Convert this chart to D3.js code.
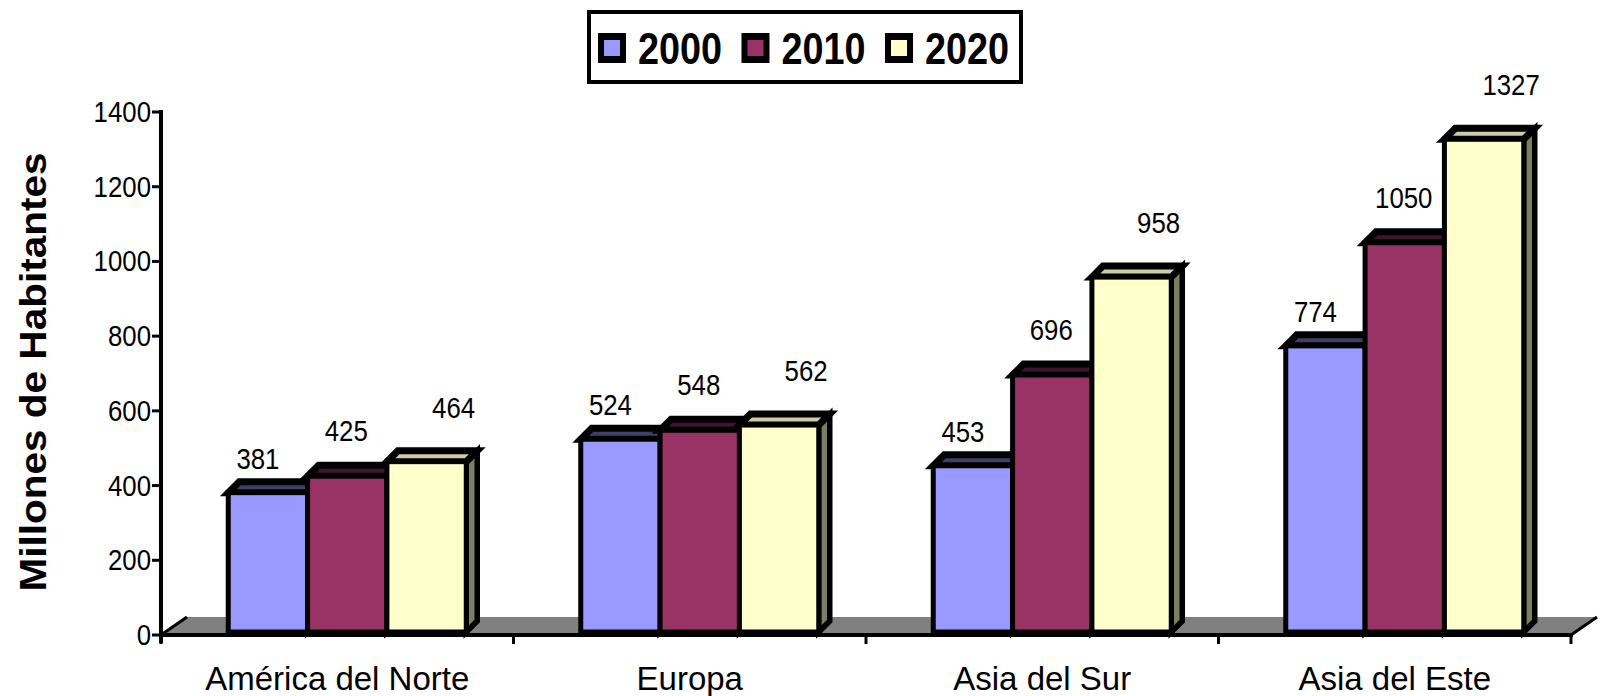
<!DOCTYPE html>
<html>
<head>
<meta charset="utf-8">
<script src="https://cdn.jsdelivr.net/npm/d3@7"></script>
<style>
  body { margin: 0; background: #fff; }
  svg { display: block; }
</style>
</head>
<body>
<div id="chart"></div>
<script>
// data
const regions = ["América del Norte", "Europa", "Asia del Sur", "Asia del Este"];
const years = ["2000", "2010", "2020"];
const pop2000 = [381, 524, 453, 774];
const pop2010 = [425, 548, 696, 1050];
const pop2020 = [464, 562, 958, 1327];
const yTicks = [0, 200, 400, 600, 800, 1000, 1200, 1400];

const seriesValues = [pop2000, pop2010, pop2020];
const colors = ["#9999ff", "#993366", "#ffffcc"];

const width = 1600;
const height = 696;
const depth = 11;        // 3d offset of the bars
const floorDx = 26, floorDy = 18;

const svg = d3.select("#chart").append("svg")
    .attr("width", width)
    .attr("height", height);

const x = d3.scaleBand()
    .domain(regions)
    .range([161, 1571]);

const xSub = d3.scaleBand()
    .domain(years)
    .range([0, 238]);

const y = d3.scaleLinear()
    .domain([0, 1400])
    .range([635, 112]);

// text helper, sx squeezes the glyphs sideways
function txt(parent, px, py, str, size, anchor, weight, sx) {
    return parent.append("text")
        .attr("transform", `translate(${px},${py}) scale(${sx || 0.86},1)`)
        .attr("text-anchor", anchor || "middle")
        .attr("font-family", "'Liberation Sans', Arial, sans-serif")
        .attr("font-size", size + "px")
        .attr("font-weight", weight || "normal")
        .attr("fill", "#000")
        .text(str);
}

// floor
const x0 = x.range()[0], x1 = x.range()[1], base = y(0);
svg.append("polygon")
    .attr("points", [[x0, base], [x1, base], [x1 + floorDx, base - floorDy], [x0 + floorDx, base - floorDy]].join(" "))
    .attr("fill", "#808080");
svg.append("line")
    .attr("x1", x0).attr("y1", base).attr("x2", x0 + floorDx).attr("y2", base - floorDy)
    .attr("stroke", "#000").attr("stroke-width", 3);
svg.append("line")
    .attr("x1", x1).attr("y1", base).attr("x2", x1 + floorDx).attr("y2", base - floorDy)
    .attr("stroke", "#000").attr("stroke-width", 3);

// bars
const barBase = base - 3;
const bw = xSub.bandwidth();
const groups = svg.selectAll(".grp")
    .data(regions)
    .join("g")
    .attr("class", "grp")
    .attr("transform", d => `translate(${x(d) + x.bandwidth() / 2 - 119 + 10},0)`);

groups.each(function(region, ri) {
    const g = d3.select(this);
    years.forEach((yr, si) => {
        const v = seriesValues[si][ri];
        const bx = xSub(yr);
        const top = y(v);
        const col = colors[si];
        const bar = g.append("g");
        // side
        bar.append("polygon")
            .attr("points", [[bx + bw, top], [bx + bw + depth, top - depth], [bx + bw + depth, barBase - depth], [bx + bw, barBase]].join(" "))
            .attr("fill", d3.color(col).darker(2))
            .attr("stroke", "#000").attr("stroke-width", 5.5).attr("stroke-linejoin", "miter");
        // top
        bar.append("polygon")
            .attr("points", [[bx, top], [bx + depth, top - depth], [bx + bw + depth, top - depth], [bx + bw, top]].join(" "))
            .attr("fill", si === 2 ? d3.color(col).darker(0.6) : d3.color(col).darker(2.5))
            .attr("stroke", "#000").attr("stroke-width", 7).attr("stroke-linejoin", "miter");
        // front
        bar.append("rect")
            .attr("x", bx).attr("y", top)
            .attr("width", bw).attr("height", barBase - top)
            .attr("fill", col)
            .attr("stroke", "#000").attr("stroke-width", 5);
    });
});

// value labels, nudged per series like the excel picture
const labelDx = [-10, -1, 27];
const labelDy = [24, 35, 44];
groups.each(function(region, ri) {
    const g = d3.select(this);
    years.forEach((yr, si) => {
        const v = seriesValues[si][ri];
        txt(g, xSub(yr) + bw / 2 + labelDx[si], y(v) - labelDy[si], v, 30);
    });
});

// y axis
svg.append("line")
    .attr("x1", x0).attr("x2", x0)
    .attr("y1", y(1400) - 2).attr("y2", base + 8)
    .attr("stroke", "#000").attr("stroke-width", 4);
yTicks.forEach(t => {
    svg.append("line")
        .attr("x1", x0 - 9).attr("x2", x0)
        .attr("y1", y(t)).attr("y2", y(t))
        .attr("stroke", "#000").attr("stroke-width", 3);
    txt(svg, x0 - 10, y(t) + 10, t, 30, "end");
});

// x axis
svg.append("line")
    .attr("x1", x0 - 2).attr("x2", x1 + 2)
    .attr("y1", base).attr("y2", base)
    .attr("stroke", "#000").attr("stroke-width", 4);
const bounds = regions.map(r => x(r)).concat([x1]);
bounds.forEach(bx => {
    svg.append("line")
        .attr("x1", bx).attr("x2", bx)
        .attr("y1", base).attr("y2", base + 9)
        .attr("stroke", "#000").attr("stroke-width", 3);
});
regions.forEach(r => {
    txt(svg, x(r) + x.bandwidth() / 2, 690, r, 33, "middle", "normal", 1);
});

// y title
svg.append("text")
    .attr("transform", `translate(46,372) rotate(-90)`)
    .attr("text-anchor", "middle")
    .attr("font-family", "'Liberation Sans', Arial, sans-serif")
    .attr("font-size", "36px")
    .attr("font-weight", "bold")
    .attr("textLength", 439)
    .attr("lengthAdjust", "spacingAndGlyphs")
    .text("Millones de Habitantes");

// legend
const legend = svg.append("g");
legend.append("rect")
    .attr("x", 589).attr("y", 12)
    .attr("width", 432).attr("height", 70)
    .attr("fill", "#fff")
    .attr("stroke", "#000").attr("stroke-width", 4);
years.forEach((yr, i) => {
    const lx = 598 + i * 143.5;
    legend.append("rect")
        .attr("x", lx).attr("y", 33)
        .attr("width", 28).attr("height", 30)
        .attr("fill", "#000");
    legend.append("rect")
        .attr("x", lx + 6).attr("y", 40)
        .attr("width", 16).attr("height", 16)
        .attr("fill", colors[i]);
    txt(legend, lx + 40, 64, yr, 44, "start", "bold");
});
</script>
</body>
</html>
